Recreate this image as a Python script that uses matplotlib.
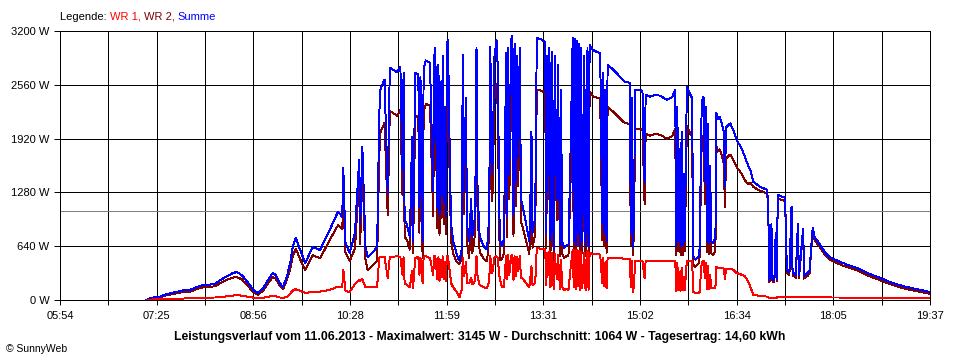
import numpy as np
import matplotlib.pyplot as plt

zeit = [
    "07:16", "07:17", "07:24", "07:29", "07:33", "07:38", "07:46", "07:52", "07:57", "08:03",
    "08:09", "08:16", "08:21", "08:25", "08:31", "08:37", "08:41", "08:46", "08:52", "08:57",
    "09:01", "09:06", "09:11", "09:15", "09:18", "09:22", "09:25", "09:29", "09:32", "09:34",
    "09:37", "09:41", "09:46", "09:53", "10:00", "10:09", "10:17", "10:21", "10:22", "10:24",
    "10:28", "10:33", "10:37", "10:38", "10:40", "10:43", "10:45", "10:49", "10:54", "10:56",
    "10:57", "11:01", "11:04", "11:06", "11:13", "11:16", "11:18", "11:19",
    # Mittag
    "11:20", "11:22", "11:25", "11:27", "11:28", "11:30", "11:33", "11:34", "11:35", "11:37",
    "11:38", "11:40", "11:44", "11:47", "11:48", "11:49", "11:51", "11:52", "11:53", "11:54",
    "11:55", "11:56", "11:57", "11:58", "11:59", "12:00", "12:01", "12:03", "12:04", "12:06",
    "12:09", "12:11", "12:12", "12:14", "12:15", "12:16", "12:18", "12:19", "12:21", "12:23",
    "12:24", "12:26", "12:27", "12:28", "12:29", "12:31", "12:35", "12:38", "12:40", "12:41",
    "12:43", "12:45", "12:47", "12:48", "12:50", "12:52", "12:54", "12:56", "12:57", "12:58",
    "12:59", "13:01", "13:02", "13:03", "13:04", "13:05", "13:06", "13:07", "13:09", "13:10",
    "13:12", "13:15", "13:18", "13:19", "13:20", "13:21", "13:23", "13:24", "13:25", "13:29",
    "13:33", "13:34", "13:35", "13:36", "13:37", "13:38", "13:39", "13:41", "13:42", "13:44",
    "13:45", "13:47", "13:48", "13:49", "13:51", "13:53", "13:55", "13:57", "13:59", "14:00",
    "14:01", "14:02", "14:03", "14:04", "14:05", "14:06", "14:07", "14:08", "14:10", "14:11",
    "14:12", "14:13", "14:14", "14:15", "14:18", "14:22", "14:25", "14:27", "14:28", "14:29",
    "14:30", "14:31", "14:32",
    # Nachmittag
    "14:39", "14:44", "14:48", "14:53", "14:54", "14:55", "14:56", "14:57", "14:58", "15:03",
    "15:05", "15:07", "15:08", "15:12", "15:17", "15:22", "15:28", "15:33", "15:36", "15:37",
    "15:38", "15:39", "15:40", "15:41", "15:42", "15:43", "15:44", "15:45", "15:47", "15:50",
    "15:52", "15:53", "15:55", "15:58", "15:59", "16:01", "16:02", "16:03", "16:04", "16:05",
    "16:06", "16:07", "16:08", "16:09", "16:10", "16:12", "16:14", "16:15", "16:16", "16:18",
    "16:20", "16:22", "16:23", "16:24", "16:26", "16:28", "16:31", "16:34", "16:39", "16:42",
    "16:45", "16:47", "16:50", "16:56", "17:03", "17:04", "17:05", "17:06", "17:07", "17:08",
    "17:09", "17:10", "17:11", "17:12", "17:13", "17:17", "17:20", "17:21", "17:22", "17:24",
    "17:26", "17:27", "17:30", "17:32", "17:33", "17:37", "17:38", "17:41", "17:43", "17:45",
    "17:46", "17:48", "17:50", "17:55", "17:58", "18:02", "18:12", "18:21", "18:28", "18:40",
    "18:50", "18:59", "19:09", "19:15", "19:26", "19:37",
]

wr1 = [
    0, 4, 8, 10, 12, 14, 16, 18, 22, 24,
    26, 28, 30, 36, 42, 52, 58, 52, 38, 28,
    22, 26, 38, 48, 44, 30, 26, 40, 80, 110,
    130, 110, 85, 95, 100, 120, 160, 150, 360, 110,
    95, 190, 240, 230, 250, 150, 150, 155, 160, 500,
    512, 512, 262, 512, 520, 512, 300, 510,
    # Mittag
    200, 180, 150, 350, 140, 500, 510, 300, 505, 200,
    515, 520, 500, 300, 520, 520, 250, 510, 230, 480,
    270, 520, 250, 450, 220, 530, 520, 300, 200, 150,
    100, 50, 36, 120, 500, 280, 450, 200, 200, 260,
    190, 210, 300, 520, 280, 180, 150, 140, 230, 520,
    320, 510, 520, 500, 250, 150, 160, 530, 250, 540,
    300, 530, 530, 240, 520, 280, 510, 340, 520, 270,
    250, 200, 150, 280, 400, 180, 200, 300, 620, 610,
    600, 180, 560, 300, 580, 150, 560, 130, 550, 250,
    540, 130, 480, 150, 120, 130, 120, 380, 600, 150,
    590, 130, 590, 160, 580, 120, 570, 140, 560, 140,
    120, 580, 120, 560, 550, 545, 540, 200, 500, 160,
    450, 140, 500,
    # Nachmittag
    500, 495, 492, 490, 150, 460, 100, 170, 464, 464,
    460, 260, 465, 465, 465, 465, 462, 463, 464, 110,
    440, 120, 330, 110, 380, 115, 280, 120, 470, 465,
    460, 100, 85, 83, 95, 440, 460, 460, 260, 440,
    130, 400, 130, 300, 140, 143, 150, 393, 385, 385,
    380, 375, 250, 375, 370, 370, 360, 321, 300, 280,
    220, 155, 60, 50, 40, 35, 25, 25, 30, 25,
    25, 25, 30, 25, 40, 40, 40, 35, 35, 35,
    40, 35, 35, 35, 35, 35, 35, 35, 35, 35,
    36, 36, 36, 34, 32, 30, 30, 29, 28, 28,
    28, 26, 25, 25, 24, 22,
]

wr2 = [
    0, 8, 25, 30, 50, 65, 85, 100, 98, 130,
    150, 155, 165, 195, 235, 265, 275, 245, 165, 90,
    62, 110, 205, 270, 255, 170, 128, 255, 380, 510,
    610, 490, 355, 535, 495, 710, 890, 840, 1210, 570,
    465, 610, 1430, 670, 1570, 480, 360, 400, 470, 1700,
    1990, 2110, 1010, 2250, 2190, 2260, 1250, 2190,
    # Mittag
    750, 720, 600, 1590, 560, 2200, 2170, 800, 2145, 500,
    2235, 2330, 2320, 1000, 2380, 2480, 850, 2290, 770, 2120,
    980, 2380, 900, 1850, 780, 2520, 2570, 1200, 700, 550,
    460, 430, 440, 480, 2415, 1020, 1950, 700, 500, 940,
    560, 690, 1100, 2480, 1020, 570, 490, 460, 770, 2490,
    1180, 2390, 2570, 2300, 470, 490, 560, 2410, 750, 2460,
    1200, 2570, 2615, 760, 2530, 1120, 2390, 1360, 2480, 930,
    850, 700, 550, 920, 1600, 620, 750, 1200, 2500, 2490,
    2470, 620, 2340, 1200, 2420, 550, 2390, 470, 2350, 950,
    2260, 520, 2020, 550, 500, 520, 530, 1420, 2518, 550,
    2510, 520, 2490, 640, 2470, 520, 2430, 560, 2340, 560,
    520, 2420, 520, 2475, 2425, 2405, 2400, 716, 2200, 640,
    2050, 560, 2300,
    # Nachmittag
    2220, 2155, 2108, 2092, 650, 1940, 530, 830, 2035, 2035,
    2020, 1140, 1975, 1955, 1975, 1965, 1918, 1947, 2035, 530,
    1860, 580, 1470, 530, 1620, 535, 1220, 580, 2065, 1985,
    1940, 420, 395, 430, 505, 1860, 1956, 1940, 1140, 1860,
    570, 1700, 550, 1300, 560, 537, 590, 1832, 1765, 1793,
    1720, 1625, 1100, 1675, 1710, 1730, 1663, 1583, 1500, 1420,
    1380, 1395, 1344, 1300, 1269, 1065, 215, 275, 870, 225,
    213, 275, 770, 225, 1209, 1190, 1174, 565, 322, 295,
    1067, 295, 265, 865, 265, 815, 255, 285, 315, 665,
    821, 704, 678, 586, 528, 482, 422, 381, 353, 282,
    234, 189, 150, 130, 101, 73,
]

y_ticks = [0, 640, 1280, 1920, 2560, 3200]
x_labels = ["05:54", "07:25", "08:56", "10:28", "11:59",
            "13:31", "15:02", "16:34", "18:05", "19:37"]

datum = "11.06.2013"
maximalwert = 3145   # W
durchschnitt = 1064  # W
tagesertrag = "14,60"  # kWh

assert len(zeit) == len(wr1) == len(wr2)


def minuten(hhmm):
    """Uhrzeit 'HH:MM' in Minuten seit Mitternacht"""
    h, m = hhmm.split(':')
    return int(h)*60 + int(m)


t = np.array([minuten(s) for s in zeit])
p1 = np.array(wr1, dtype=float)
p2 = np.array(wr2, dtype=float)
summe = p1 + p2

plt.rcParams['font.family'] = ['Liberation Sans', 'DejaVu Sans']

W, H = 960, 360
lw = 0.7   # ~1 Pixel
fig = plt.figure(figsize=(W/100, H/100), dpi=100)
ax = fig.add_axes([60/W, 60/H, 870/W, 269/H])

t0 = minuten(x_labels[0])
t1 = minuten(x_labels[-1])
gitter = np.linspace(t0, t1, 2*(len(x_labels) - 1) + 1)   # Gitter alle ~46 min

# Gitterlinien
for g in gitter:
    ax.axvline(g, color='k', lw=lw, zorder=1, antialiased=False)
for y in y_ticks:
    ax.axhline(y, color='k', lw=lw, zorder=1, antialiased=False)
ax.axhline(durchschnitt, color='#808080', lw=lw, zorder=1, antialiased=False)   # Durchschnitt

# Kurven (Summe liegt oben)
ax.plot(t, p2, color='#800000', lw=lw, zorder=3, antialiased=False)
ax.plot(t, summe, color='#0000ff', lw=lw, zorder=4, antialiased=False)
ax.plot(t, p1, color='#ff0000', lw=lw, zorder=5, antialiased=False)

ax.set_xlim(t0, t1)
ax.set_ylim(0, 3200)

ax.set_xticks(gitter[::2], x_labels)
ax.set_xticks(gitter[1::2], minor=True)
ax.set_yticks(y_ticks, ["%d W" % v for v in y_ticks])

ax.tick_params(axis='x', which='both', direction='out', length=3.6, width=lw,
               pad=4.0, labelsize=8, colors='k')
ax.tick_params(axis='y', direction='out', length=4.5, width=lw, pad=3.2,
               labelsize=8, colors='k')
for sp in ax.spines.values():
    sp.set_linewidth(lw)
    sp.set_color('k')
    sp.set_zorder(6)
    sp.set_antialiased(False)

# Legende oben links, mehrfarbig
r = fig.canvas.get_renderer()
x = 60/W
for s, c in [("Legende: ", 'k'), ("WR 1, ", '#ff0000'),
             ("WR 2, ", '#800000'), ("Summe", '#0000ff')]:
    txt = fig.text(x, 1 - 16.5/H, s, color=c, fontsize=8, va='center', ha='left')
    x += txt.get_window_extent(r).width/W

titel = ("Leistungsverlauf vom %s - Maximalwert: %d W - Durchschnitt: %d W - "
         "Tagesertrag: %s kWh" % (datum, maximalwert, durchschnitt, tagesertrag))
fig.text(480/W, 1 - 337/H, titel, fontsize=8.8, fontweight='bold', ha='center', va='center')
fig.text(6/W, 1 - 349/H, "\u00a9 SunnyWeb", fontsize=7.5, ha='left', va='center')

fig.savefig("out.png", dpi=100, facecolor='white')
plt.close()
